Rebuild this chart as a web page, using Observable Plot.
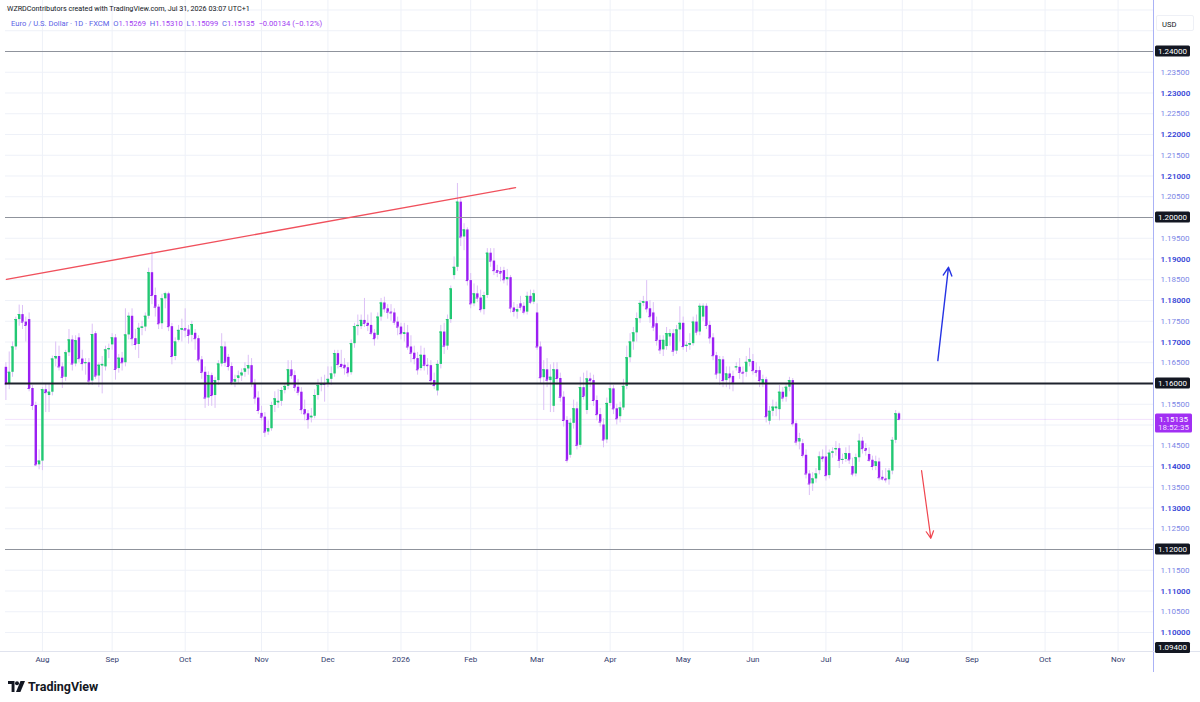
<!DOCTYPE html>
<html><head><meta charset="utf-8">
<script src="https://cdn.jsdelivr.net/npm/d3@7"></script>
<script src="https://cdn.jsdelivr.net/npm/@observablehq/plot@0.6"></script>
<style>
body{margin:0;background:#fff;}
#wrap{position:relative;width:1200px;height:702px;overflow:hidden;background:#fff;font-family:Roboto,"Noto Sans",sans-serif;}
#chart{position:absolute;left:0;top:0;}
.credit{position:absolute;left:7px;top:4px;font-size:7.2px;color:#131722;white-space:nowrap;}
.legend{position:absolute;left:11px;top:19px;font-size:7.6px;white-space:nowrap;color:#5a5fe6;}
.legend .v{color:#a23cf2;}
.usd{position:absolute;left:1156px;top:15px;width:38px;height:16px;box-sizing:border-box;border:1px solid #eef0f6;border-radius:2px;font-size:7.6px;color:#131722;padding:4px 0 0 5px;background:#fff;}
.logo{position:absolute;left:8px;top:679px;display:flex;align-items:center;gap:3px;font-size:12.5px;font-weight:700;color:#131722;}
</style></head><body>
<div id="wrap">
<div id="chart"></div>
<div class="credit">WZRDContributors created with TradingView.com, Jul 31, 2026 03:07 UTC+1</div>
<div class="legend">Euro / U.S. Dollar · 1D · FXCM&nbsp;&nbsp;O<span class="v">1.15269</span>&nbsp;&nbsp;H<span class="v">1.15310</span>&nbsp;&nbsp;L<span class="v">1.15099</span>&nbsp;&nbsp;C<span class="v">1.15135</span>&nbsp;&nbsp;<span class="v">−0.00134 (−0.12%)</span></div>
<div class="usd">USD</div>
<div class="logo"><svg width="17" height="11" viewBox="0 0 17 11"><path d="M0 0h6.5v11H3.6V3H0z" fill="#131722"/><circle cx="9" cy="2.2" r="2" fill="#131722"/><path d="M12.5 0H17l-4.6 11H8z" fill="#131722"/></svg><span>TradingView</span></div>
</div>
<script>
// ---- data (EUR/USD daily, FXCM) ----
const startDate = "2025-07-17";
const closedDays = ["2025-12-25", "2026-01-01"];
const opens = [
1.1639,1.1599,1.1627,1.1688,1.1754,1.1766,1.1748,1.1754,1.1588,1.1547,
1.1404,1.1413,1.1585,1.1571,1.1579,1.1659,1.1665,1.1640,1.1615,1.1674,
1.1705,1.1647,1.1710,1.1659,1.1648,1.1650,1.1606,1.1720,1.1618,1.1642,
1.1640,1.1681,1.1693,1.1710,1.1636,1.1661,1.1650,1.1717,1.1762,1.1708,
1.1694,1.1733,1.1736,1.1762,1.1867,1.1812,1.1784,1.1744,1.1804,1.1816,
1.1737,1.1665,1.1704,1.1728,1.1732,1.1729,1.1716,1.1721,1.1708,1.1657,
1.1627,1.1565,1.1619,1.1571,1.1607,1.1647,1.1688,1.1663,1.1641,1.1603,
1.1612,1.1618,1.1627,1.1635,1.1643,1.1599,1.1565,1.1528,1.1519,1.1483,
1.1491,1.1547,1.1553,1.1557,1.1583,1.1593,1.1633,1.1619,1.1591,1.1579,
1.1537,1.1527,1.1517,1.1521,1.1571,1.1595,1.1600,1.1598,1.1610,1.1623,
1.1672,1.1646,1.1644,1.1638,1.1626,1.1696,1.1737,1.1737,1.1752,1.1745,
1.1740,1.1721,1.1716,1.1760,1.1794,1.1780,1.1772,1.1770,1.1748,1.1736,
1.1718,1.1722,1.1688,1.1673,1.1660,1.1636,1.1668,1.1644,1.1643,1.1607,
1.1582,1.1646,1.1724,1.1690,1.1754,1.1860,1.1880,1.2037,1.1953,1.1970,
1.1848,1.1792,1.1816,1.1806,1.1778,1.1812,1.1914,1.1895,1.1872,1.1870,
1.1872,1.1850,1.1855,1.1782,1.1772,1.1792,1.1786,1.1772,1.1810,1.1796,
1.1770,1.1688,1.1614,1.1633,1.1607,1.1545,1.1633,1.1612,1.1567,1.1511,
1.1427,1.1504,1.1539,1.1451,1.1590,1.1535,1.1611,1.1607,1.1559,1.1525,
1.1500,1.1464,1.1552,1.1587,1.1539,1.1520,1.1541,1.1593,1.1662,1.1700,
1.1722,1.1756,1.1793,1.1797,1.1780,1.1770,1.1744,1.1704,1.1681,1.1689,
1.1712,1.1720,1.1678,1.1729,1.1745,1.1689,1.1692,1.1696,1.1748,1.1724,
1.1760,1.1786,1.1740,1.1710,1.1667,1.1623,1.1657,1.1607,1.1623,1.1617,
1.1638,1.1639,1.1627,1.1627,1.1651,1.1653,1.1631,1.1631,1.1599,1.1609,
1.1509,1.1533,1.1539,1.1537,1.1579,1.1567,1.1591,1.1607,1.1503,1.1459,
1.1455,1.1427,1.1382,1.1358,1.1370,1.1390,1.1423,1.1423,1.1378,1.1432,
1.1440,1.1443,1.1415,1.1417,1.1431,1.1400,1.1382,1.1421,1.1461,1.1443,
1.1429,1.1415,1.1400,1.1411,1.1374,1.1370,1.1368,1.1389,1.1463,1.15269];
const highs = [
1.1650,1.1676,1.1700,1.1760,1.1789,1.1788,1.1760,1.1770,1.1595,1.1555,
1.1440,1.1590,1.1600,1.1598,1.1666,1.1700,1.1690,1.1650,1.1680,1.1730,
1.1715,1.1715,1.1720,1.1680,1.1660,1.1660,1.1743,1.1725,1.1650,1.1665,
1.1690,1.1695,1.1720,1.1718,1.1670,1.1675,1.1780,1.1770,1.1780,1.1730,
1.1745,1.1750,1.1770,1.1878,1.1918,1.1830,1.1790,1.1815,1.1820,1.1820,
1.1745,1.1710,1.1740,1.1755,1.1780,1.1740,1.1750,1.1730,1.1715,1.1665,
1.1640,1.1628,1.1625,1.1615,1.1655,1.1720,1.1700,1.1670,1.1650,1.1620,
1.1630,1.1635,1.1650,1.1668,1.1660,1.1610,1.1580,1.1545,1.1530,1.1510,
1.1555,1.1580,1.1585,1.1590,1.1600,1.1655,1.1655,1.1630,1.1610,1.1590,
1.1560,1.1535,1.1540,1.1585,1.1610,1.1615,1.1620,1.1640,1.1640,1.1680,
1.1680,1.1680,1.1660,1.1650,1.1705,1.1745,1.1765,1.1765,1.1805,1.1765,
1.1770,1.1730,1.1770,1.1805,1.1808,1.1790,1.1790,1.1780,1.1760,1.1745,
1.1745,1.1740,1.1715,1.1690,1.1675,1.1690,1.1685,1.1660,1.1655,1.1625,
1.1655,1.1740,1.1745,1.1765,1.1835,1.1905,1.2082,1.2045,1.1985,1.1975,
1.1865,1.1840,1.1835,1.1825,1.1820,1.1925,1.1925,1.1925,1.1885,1.1880,
1.1880,1.1875,1.1860,1.1795,1.1790,1.1810,1.1795,1.1820,1.1825,1.1825,
1.1792,1.1700,1.1655,1.1660,1.1645,1.1650,1.1650,1.1625,1.1580,1.1520,
1.1515,1.1560,1.1555,1.1615,1.1625,1.1630,1.1625,1.1620,1.1570,1.1540,
1.1515,1.1565,1.1600,1.1595,1.1550,1.1555,1.1610,1.1690,1.1720,1.1735,
1.1770,1.1800,1.1810,1.1848,1.1800,1.1795,1.1760,1.1715,1.1715,1.1735,
1.1730,1.1730,1.1740,1.1785,1.1760,1.1700,1.1720,1.1760,1.1765,1.1792,
1.1792,1.1792,1.1750,1.1720,1.1675,1.1665,1.1665,1.1640,1.1640,1.1630,
1.1650,1.1660,1.1640,1.1665,1.1685,1.1670,1.1650,1.1640,1.1620,1.1615,
1.1545,1.1560,1.1555,1.1595,1.1590,1.1600,1.1615,1.1612,1.1510,1.1480,
1.1465,1.1440,1.1390,1.1385,1.1395,1.1435,1.1440,1.1450,1.1440,1.1445,
1.1460,1.1455,1.1430,1.1445,1.1450,1.1420,1.1430,1.1478,1.1470,1.1455,
1.1445,1.1425,1.1425,1.1420,1.1390,1.1395,1.1395,1.1470,1.1535,1.15310];
const lows = [
1.1559,1.1585,1.1615,1.1680,1.1738,1.1730,1.1700,1.1580,1.1535,1.1400,
1.1392,1.1390,1.1530,1.1530,1.1570,1.1640,1.1630,1.1588,1.1605,1.1665,
1.1630,1.1640,1.1650,1.1630,1.1620,1.1595,1.1595,1.1610,1.1590,1.1575,
1.1630,1.1660,1.1680,1.1608,1.1625,1.1630,1.1640,1.1705,1.1690,1.1680,
1.1660,1.1715,1.1725,1.1755,1.1790,1.1760,1.1730,1.1730,1.1780,1.1725,
1.1645,1.1655,1.1700,1.1700,1.1710,1.1695,1.1700,1.1680,1.1650,1.1610,
1.1540,1.1545,1.1545,1.1540,1.1595,1.1640,1.1640,1.1630,1.1595,1.1590,
1.1600,1.1605,1.1615,1.1620,1.1590,1.1550,1.1525,1.1510,1.1470,1.1475,
1.1485,1.1530,1.1540,1.1545,1.1575,1.1585,1.1610,1.1580,1.1570,1.1525,
1.1510,1.1490,1.1505,1.1515,1.1560,1.1580,1.1555,1.1590,1.1595,1.1615,
1.1635,1.1635,1.1620,1.1615,1.1620,1.1685,1.1715,1.1730,1.1735,1.1725,
1.1715,1.1690,1.1705,1.1750,1.1770,1.1755,1.1750,1.1740,1.1715,1.1705,
1.1700,1.1680,1.1650,1.1645,1.1620,1.1630,1.1630,1.1620,1.1595,1.1585,
1.1570,1.1635,1.1670,1.1680,1.1745,1.1850,1.1870,1.1930,1.1920,1.1835,
1.1780,1.1785,1.1795,1.1770,1.1765,1.1805,1.1880,1.1860,1.1855,1.1845,
1.1840,1.1835,1.1770,1.1760,1.1755,1.1775,1.1765,1.1765,1.1790,1.1790,
1.1680,1.1600,1.1535,1.1590,1.1530,1.1530,1.1595,1.1555,1.1495,1.1408,
1.1420,1.1490,1.1440,1.1445,1.1560,1.1525,1.1590,1.1545,1.1510,1.1495,
1.1445,1.1455,1.1545,1.1525,1.1500,1.1505,1.1535,1.1585,1.1650,1.1680,
1.1700,1.1745,1.1785,1.1770,1.1745,1.1725,1.1690,1.1670,1.1665,1.1680,
1.1690,1.1665,1.1670,1.1700,1.1680,1.1675,1.1680,1.1690,1.1715,1.1715,
1.1750,1.1730,1.1695,1.1655,1.1610,1.1595,1.1590,1.1590,1.1585,1.1580,
1.1630,1.1610,1.1600,1.1615,1.1640,1.1620,1.1615,1.1590,1.1590,1.1505,
1.1500,1.1520,1.1520,1.1510,1.1555,1.1555,1.1580,1.1495,1.1450,1.1440,
1.1420,1.1370,1.1330,1.1340,1.1360,1.1380,1.1410,1.1365,1.1370,1.1420,
1.1425,1.1395,1.1405,1.1410,1.1405,1.1375,1.1375,1.1410,1.1430,1.1425,
1.1410,1.1390,1.1390,1.1365,1.1365,1.1360,1.1355,1.1380,1.1455,1.15099];
const closes = [
1.1599,1.1627,1.1688,1.1754,1.1766,1.1748,1.1740,1.1588,1.1547,1.1404,
1.1413,1.1585,1.1578,1.1579,1.1659,1.1665,1.1640,1.1615,1.1674,1.1705,
1.1647,1.1703,1.1660,1.1648,1.1650,1.1606,1.1718,1.1618,1.1644,1.1646,
1.1681,1.1684,1.1710,1.1634,1.1661,1.1650,1.1717,1.1762,1.1708,1.1694,
1.1733,1.1736,1.1762,1.1867,1.1812,1.1784,1.1744,1.1804,1.1816,1.1737,
1.1665,1.1700,1.1728,1.1732,1.1729,1.1716,1.1742,1.1708,1.1657,1.1627,
1.1565,1.1619,1.1571,1.1607,1.1647,1.1688,1.1651,1.1641,1.1603,1.1609,
1.1618,1.1625,1.1635,1.1643,1.1601,1.1565,1.1535,1.1519,1.1483,1.1491,
1.1547,1.1563,1.1557,1.1583,1.1593,1.1633,1.1619,1.1591,1.1579,1.1537,
1.1527,1.1513,1.1521,1.1571,1.1595,1.1600,1.1598,1.1610,1.1623,1.1672,
1.1646,1.1641,1.1638,1.1626,1.1696,1.1737,1.1740,1.1752,1.1745,1.1740,
1.1721,1.1708,1.1760,1.1794,1.1780,1.1772,1.1770,1.1748,1.1736,1.1720,
1.1722,1.1688,1.1673,1.1660,1.1633,1.1668,1.1644,1.1643,1.1607,1.1595,
1.1646,1.1724,1.1690,1.1754,1.1828,1.1880,1.2037,1.1953,1.1970,1.1848,
1.1792,1.1816,1.1806,1.1778,1.1812,1.1914,1.1895,1.1872,1.1868,1.1866,
1.1850,1.1855,1.1782,1.1774,1.1778,1.1784,1.1772,1.1810,1.1796,1.1816,
1.1688,1.1614,1.1633,1.1608,1.1615,1.1633,1.1612,1.1567,1.1511,1.1415,
1.1504,1.1539,1.1451,1.1590,1.1569,1.1611,1.1607,1.1559,1.1525,1.1507,
1.1464,1.1552,1.1587,1.1539,1.1515,1.1541,1.1593,1.1662,1.1700,1.1722,
1.1756,1.1793,1.1797,1.1780,1.1761,1.1736,1.1704,1.1681,1.1704,1.1720,
1.1720,1.1678,1.1729,1.1745,1.1689,1.1692,1.1696,1.1748,1.1724,1.1786,
1.1786,1.1740,1.1710,1.1667,1.1623,1.1657,1.1607,1.1623,1.1614,1.1601,
1.1640,1.1627,1.1625,1.1651,1.1657,1.1631,1.1627,1.1607,1.1609,1.1520,
1.1533,1.1543,1.1543,1.1579,1.1565,1.1591,1.1607,1.1503,1.1459,1.1467,
1.1427,1.1382,1.1358,1.1370,1.1382,1.1423,1.1419,1.1378,1.1432,1.1435,
1.1443,1.1415,1.1417,1.1431,1.1416,1.1382,1.1421,1.1461,1.1443,1.1439,
1.1415,1.1400,1.1411,1.1373,1.1370,1.1368,1.1389,1.1463,1.1527,1.15135];

const monthLabels = ["Aug","Sep","Oct","Nov","Dec","2026","Feb","Mar","Apr","May","Jun","Jul","Aug","Sep","Oct","Nov"];
const yMajor = [1.10,1.11,1.13,1.14,1.17,1.18,1.19,1.21,1.22,1.23];
const yMinor = [1.105,1.115,1.125,1.135,1.145,1.155,1.165,1.175,1.185,1.195,1.205,1.215,1.225,1.235];
const levels = [1.24, 1.20, 1.16, 1.12];
const levelLabels = ["1.24000","1.20000","1.16000","1.12000"];
const lastPrice = 1.15135;
const lastLabel = ["1.15135", "18:52:35"];
const bottomLabel = "1.09400";
const trendX = [0.18, 153.5];
const trendY = [1.1851, 1.2072];
const blueArrow = [{x1: 280.7, y1: 1.1655, x2: 283.9, y2: 1.1880}];
const redArrow = [{x1: 275.8, y1: 1.1390, x2: 278.6, y2: 1.1227}];

// ---- trading-day calendar (weekdays, minus closed days) ----
const barCount = 346;
const days = [];
{
  const d = new Date(startDate + "T00:00:00Z");
  while (days.length < barCount) {
    const wd = d.getUTCDay(), s = d.toISOString().slice(0, 10);
    if (wd !== 0 && wd !== 6 && !closedDays.includes(s)) days.push(s);
    d.setUTCDate(d.getUTCDate() + 1);
  }
}
const monthIdx = [];
for (let k = 1; k < days.length; k++) if (days[k].slice(0, 7) !== days[k - 1].slice(0, 7)) monthIdx.push(k);
const monthTicks = monthLabels.map((label, j) => ({i: monthIdx[j], label}));

const bars = closes.map((c, i) => ({i, date: days[i], o: opens[i], h: highs[i], l: lows[i], c}));
const UP = "#22c873", DOWN = "#9b1ff3", WICK = "#dcc0f6";
const colorOf = d => d.c >= d.o ? UP : DOWN;
const gridVals = [...yMajor, ...yMinor, ...levels, 1.15, 1.245, 1.25];
const FONT = "Roboto, 'Noto Sans', sans-serif";

const plot = Plot.plot({
  width: 1200, height: 672,
  marginLeft: 5, marginRight: 47, marginTop: 0, marginBottom: 21,
  x: {domain: [-0.12, 345.66], axis: null},
  y: {domain: [1.095422, 1.252289], axis: null},
  color: {type: "identity"},
  style: {fontFamily: FONT, fontSize: "8px", background: "transparent", overflow: "visible"},
  marks: [
    Plot.gridY(gridVals, {stroke: "#eef1f8", strokeOpacity: 1}),
    Plot.gridX(monthIdx, {stroke: "#eef1f8", strokeOpacity: 1}),
    Plot.ruleY([lastPrice], {stroke: "#a020f0", strokeOpacity: 0.13, strokeWidth: 1}),
    Plot.ruleX(bars, {x: "i", y1: "l", y2: "h", stroke: WICK, strokeWidth: 1}),
    Plot.ruleX(bars, {x: "i", y1: "o", y2: "c", stroke: colorOf, strokeWidth: 2.4}),
    Plot.ruleY(bars, {x1: d => d.i - 0.36, x2: d => d.i + 0.36, y: "c", stroke: colorOf, strokeWidth: 1}),
    Plot.ruleY(levels, {stroke: d => d === 1.16 ? "#1e222d" : "#8f939c", strokeWidth: d => d === 1.16 ? 1.8 : 1.1}),
    Plot.line(trendX.map((x, k) => ({x, y: trendY[k]})), {x: "x", y: "y", stroke: "#f0505c", strokeWidth: 1.4}),
    Plot.arrow(blueArrow, {x1: "x1", y1: "y1", x2: "x2", y2: "y2", stroke: "#2634e4", strokeWidth: 1.4, headLength: 10, headAngle: 55}),
    Plot.arrow(redArrow, {x1: "x1", y1: "y1", x2: "x2", y2: "y2", stroke: "#f0464f", strokeWidth: 1.2, headLength: 10, headAngle: 55}),
    Plot.axisY(yMajor, {anchor: "right", tickSize: 0, tickPadding: 7, tickFormat: d => d.toFixed(5), fill: "#3443d6", fontWeight: 600, fontSize: 8}),
    Plot.axisY(yMinor, {anchor: "right", tickSize: 0, tickPadding: 7, tickFormat: d => d.toFixed(5), fill: "#7b86e6", fontSize: 8}),
    Plot.text(monthTicks, {x: "i", frameAnchor: "bottom", dy: 10, text: "label", fill: "#333c6e", fontSize: 8, fontWeight: d => d.label === "2026" ? 700 : 400})
  ]
});
document.getElementById("chart").appendChild(plot);

// ---- price-axis annotations positioned with the plot's own y scale ----
const ys = plot.scale("y");
const svg = d3.select(plot);
const g = svg.append("g").attr("font-family", FONT).attr("font-size", 8).attr("text-anchor", "start");
g.append("line").attr("x1", 1153.5).attr("x2", 1153.5).attr("y1", 0).attr("y2", 672).attr("stroke", "#aab2f6");
g.append("line").attr("x1", 0).attr("x2", 1200).attr("y1", 651.5).attr("y2", 651.5).attr("stroke", "#e0e3ee");
levels.forEach((v, k) => {
  const y = ys.apply(v);
  g.append("rect").attr("x", 1155).attr("y", y - 5.5).attr("width", 35).attr("height", 11).attr("rx", 1.5).attr("fill", "#131722");
  g.append("text").attr("x", 1172.5).attr("y", y).attr("dy", "0.35em").attr("text-anchor", "middle").attr("fill", "#fff").text(levelLabels[k]);
});
g.append("rect").attr("x", 1155).attr("y", 642).attr("width", 35).attr("height", 11).attr("rx", 1.5).attr("fill", "#131722");
g.append("text").attr("x", 1172.5).attr("y", 647.5).attr("dy", "0.35em").attr("text-anchor", "middle").attr("fill", "#fff").text(bottomLabel);
{
  const y = ys.apply(lastPrice);
  g.append("rect").attr("x", 1155).attr("y", y - 5.5).attr("width", 37).attr("height", 19).attr("rx", 1.5).attr("fill", "#a12ff3");
  g.append("text").attr("x", 1173.5).attr("y", y).attr("dy", "0.35em").attr("text-anchor", "middle").attr("fill", "#fff").text(lastLabel[0]);
  g.append("text").attr("x", 1173.5).attr("y", y + 8.5).attr("dy", "0.35em").attr("text-anchor", "middle").attr("fill", "#f1e2ff").text(lastLabel[1]);
}
</script>
</body></html>
